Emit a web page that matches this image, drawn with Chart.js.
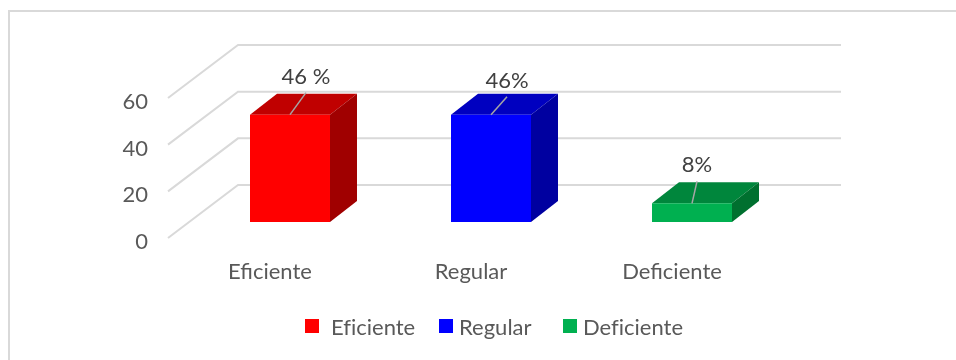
<!DOCTYPE html>
<html>
<head>
<meta charset="utf-8">
<script src="https://cdn.jsdelivr.net/npm/chart.js@4"></script>
<style>
    html, body { margin: 0; padding: 0; background: #fff; }
    #wrap { position: relative; width: 956px; height: 360px; overflow: hidden; }
    #frame { position: absolute; left: 8px; top: 10px; width: 960px; height: 360px; border-top: 2px solid #d9d9d9; border-left: 2px solid #d9d9d9; }
    canvas { position: absolute; left: 0; top: 0; }
    #legend { position: absolute; left: 0; top: 0; font: 22px Lato, "Open Sans", sans-serif; color: #595959; font-variant-ligatures: none; }
    #legend i { position: absolute; top: 319px; width: 14px; height: 14px; }
    #legend span { position: absolute; top: 313px; line-height: 28px; white-space: nowrap; }
</style>
</head>
<body>
<div id="wrap">
    <div id="frame"></div>
    <canvas id="qualityChart" width="956" height="360"></canvas>
    <div id="legend"></div>
</div>
<script>
// Chart data
const categories = ['Eficiente', 'Regular', 'Deficiente'];
const seriesValues = [46, 46, 8];
const valueLabels = ['46 %', '46%', '8%'];
const yTicks = [0, 20, 40, 60];

// Face colours of each 3D bar
const frontColors = ['#ff0000', '#0000ff', '#00b050'];
const topColors = ['#c00000', '#0000c0', '#00863c'];
const sideColors = ['#a00000', '#0000a0', '#00702f'];

const FONT = 'Lato, "Open Sans", sans-serif';
const GRID = '#d9d9d9';

// Depth of the 3D box and distance of the back wall from the bar plane
const barDepth = { x: 27, y: -21 };
const wallOffset = { x: 48.5, y: -37 };
const floorDepth = { x: -70, y: 53 };

// Leader line tip of each value label, relative to the top of its bar
const leaders = [{ x: 16, y: -22 }, { x: 16, y: -18 }, { x: 5, y: -22 }];

// Legend items: box and text positions follow the original spacing
const legendBoxX = [305, 439, 563];
const legendTextX = [331, 459, 583];

// Draws the walls and the top/side of each bar before Chart.js paints the fronts
const box3dPlugin = {
    id: 'box3d',
    beforeDatasetsDraw(chart) {
        const { ctx, scales, chartArea } = chart;
        const left = chartArea.left + wallOffset.x;
        const right = chartArea.right + wallOffset.x;

        ctx.save();
        ctx.strokeStyle = GRID;
        ctx.lineWidth = 2;
        yTicks.forEach(tick => {
            const y = scales.y.getPixelForValue(tick) + wallOffset.y;
            ctx.beginPath();
            ctx.moveTo(left + floorDepth.x, y + floorDepth.y);
            ctx.lineTo(left, y);
            ctx.lineTo(right, y);
            ctx.stroke();
        });

        chart.getDatasetMeta(0).data.forEach((bar, i) => {
            const x0 = bar.x - bar.width / 2;
            const x1 = bar.x + bar.width / 2;

            ctx.fillStyle = topColors[i];
            ctx.beginPath();
            ctx.moveTo(x0, bar.y);
            ctx.lineTo(x0 + barDepth.x, bar.y + barDepth.y);
            ctx.lineTo(x1 + barDepth.x, bar.y + barDepth.y);
            ctx.lineTo(x1, bar.y);
            ctx.closePath();
            ctx.fill();

            ctx.fillStyle = sideColors[i];
            ctx.beginPath();
            ctx.moveTo(x1, bar.y);
            ctx.lineTo(x1 + barDepth.x, bar.y + barDepth.y);
            ctx.lineTo(x1 + barDepth.x, bar.base + barDepth.y);
            ctx.lineTo(x1, bar.base);
            ctx.closePath();
            ctx.fill();
        });
        ctx.restore();
    },
    // Value labels with their leader lines
    afterDatasetsDraw(chart) {
        const { ctx } = chart;

        ctx.save();
        ctx.textAlign = 'center';
        ctx.textBaseline = 'middle';
        ctx.font = '22px ' + FONT;
        chart.getDatasetMeta(0).data.forEach((bar, i) => {
            const tipX = bar.x + leaders[i].x;
            const tipY = bar.y + leaders[i].y;
            ctx.strokeStyle = '#a6a6a6';
            ctx.lineWidth = 1.5;
            ctx.beginPath();
            ctx.moveTo(bar.x, bar.y);
            ctx.lineTo(tipX, tipY);
            ctx.stroke();
            ctx.fillStyle = '#404040';
            ctx.fillText(valueLabels[i], tipX, tipY - 16);
        });
        ctx.restore();
    }
};

// Build the legend
const legend = document.getElementById('legend');
categories.forEach((name, i) => {
    const box = document.createElement('i');
    box.style.left = legendBoxX[i] + 'px';
    box.style.background = frontColors[i];
    const text = document.createElement('span');
    text.style.left = legendTextX[i] + 'px';
    text.textContent = name;
    legend.append(box, text);
});

const ctx = document.getElementById('qualityChart').getContext('2d');
ctx.letterSpacing = '0.01px'; // stops the "fi" ligature in Lato

new Chart(ctx, {
    type: 'bar',
    data: {
        labels: categories,
        datasets: [{
            data: seriesValues,
            backgroundColor: frontColors,
            borderWidth: 0,
            barPercentage: 1,
            categoryPercentage: 0.398
        }]
    },
    options: {
        responsive: false,
        animation: false,
        layout: { padding: { left: 100, right: 163.5, top: 82, bottom: 0 } },
        plugins: {
            tooltip: { enabled: false },
            legend: { display: false }
        },
        scales: {
            x: {
                grid: { display: false },
                border: { display: false },
                afterFit: scale => { scale.height = 138; },
                ticks: {
                    color: '#595959',
                    font: { family: FONT, size: 22 },
                    labelOffset: -20,
                    padding: 29,
                    maxRotation: 0
                }
            },
            y: {
                min: 0,
                max: 60,
                position: 'left',
                grid: { display: false },
                border: { display: false },
                afterFit: scale => { scale.width = 89.5; },
                afterBuildTicks: scale => { scale.ticks = yTicks.map(v => ({ value: v })); },
                ticks: {
                    color: '#595959',
                    font: { family: FONT, size: 22 },
                    labelOffset: 20,
                    padding: 33.5
                }
            }
        }
    },
    plugins: [box3dPlugin]
});
</script>
</body>
</html>
